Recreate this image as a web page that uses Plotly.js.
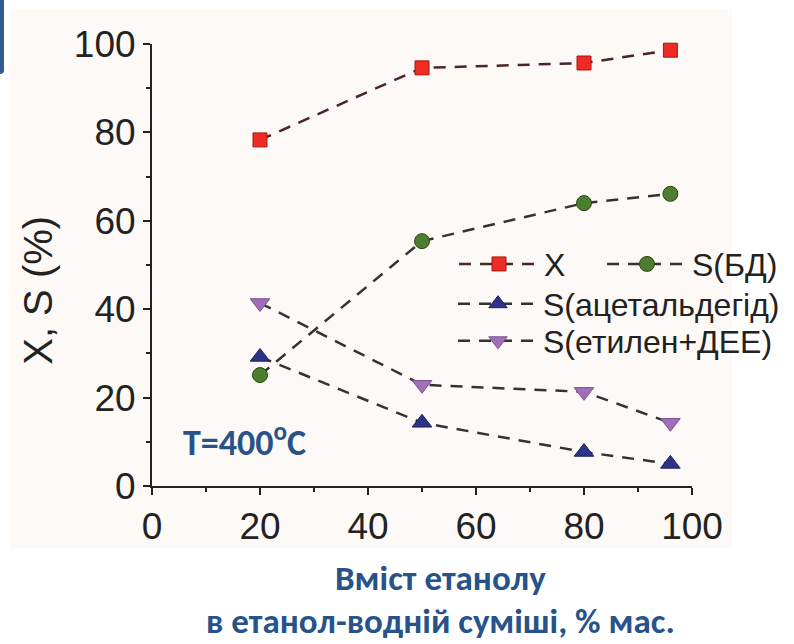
<!DOCTYPE html>
<html>
<head>
<meta charset="utf-8">
<script src="https://cdn.plot.ly/plotly-3.0.1.min.js"></script>
<style>
  html, body { margin: 0; padding: 0; background: #ffffff; }
  #wrap { position: relative; width: 794px; height: 644px; overflow: hidden; }
  #panel { position: absolute; left: 10px; top: 9px; width: 722px; height: 539px; background: #fdf9f6; }
  #tab { position: absolute; left: 0; top: 0; width: 4px; height: 74px; background: #2f5d93; border-bottom-right-radius: 4px; }
  #chart { position: absolute; left: 0; top: 0; width: 794px; height: 644px; }
</style>
</head>
<body>
<div id="wrap">
  <div id="panel"></div>
  <div id="tab"></div>
  <div id="chart"></div>
</div>
<script>
// Ethanol content in the ethanol-water feed, wt.%
const ethanolContent = [20, 50, 80, 96];

// Conversion X and selectivities S, %
const conversionX    = [78.3, 94.6, 95.7, 98.6];
const selBD          = [25.1, 55.4, 64.0, 66.1];
const selAcetald     = [29.2, 14.3, 7.7, 5.0];
const selEthyleneDEE = [41.4, 22.9, 21.3, 14.3];

const seriesNames = ['X', 'S(БД)', 'S(ацетальдегід)', 'S(етилен+ДЕЕ)'];

const xTicks = [0, 20, 40, 60, 80, 100];
const yTicks = [0, 20, 40, 60, 80, 100];

const axisFont = 'Liberation Sans, Arial, sans-serif';
const noteFont = 'Carlito, Calibri, "Open Sans", sans-serif';
const noteColor = '#27528a';
const dashPattern = '12px,9px';

function series(y, name, legendId, symbol, size, fill, edge, lineColor) {
  return {
    x: ethanolContent, y: y, name: name, legend: legendId,
    type: 'scatter', mode: 'lines+markers', cliponaxis: false,
    line: { color: lineColor, width: 2.5, dash: dashPattern },
    marker: { symbol: symbol, size: size, color: fill, line: { color: edge, width: 1 } }
  };
}

const traces = [
  series(conversionX,    seriesNames[0], 'legend',  'square',        14, '#ee2b24', '#a8160f', '#4a2626'),
  series(selBD,          seriesNames[1], 'legend2', 'circle',        15, '#4d7d2e', '#2c4a19', '#333333'),
  series(selAcetald,     seriesNames[2], 'legend3', 'triangle-up',   17, '#2c3488', '#1b205c', '#333333'),
  series(selEthyleneDEE, seriesNames[3], 'legend4', 'triangle-down', 17, '#a06fb8', '#7d5193', '#333333')
];

// one legend per entry so each row can sit where it belongs
function legendAt(x, y) {
  return {
    x: x, y: y, xanchor: 'left', yanchor: 'middle',
    bgcolor: 'rgba(0,0,0,0)', borderwidth: 0,
    itemwidth: 80, tracegroupgap: 0,
    font: { family: axisFont, size: 32, color: '#222222' }
  };
}

const axisCommon = {
  range: [0, 100], showgrid: false, zeroline: false,
  showline: true, linecolor: '#222222', linewidth: 2,
  ticks: 'outside', ticklen: 7, tickwidth: 2, tickcolor: '#222222',
  tickfont: { family: axisFont, size: 37, color: '#222222' },
  minor: { dtick: 10, ticks: 'outside', ticklen: 4, tickwidth: 2, tickcolor: '#222222' },
  fixedrange: true
};

const layout = {
  width: 794, height: 644,
  margin: { l: 152, r: 102, t: 44, b: 158, autoexpand: false },
  paper_bgcolor: 'rgba(0,0,0,0)',
  plot_bgcolor: 'rgba(0,0,0,0)',
  showlegend: true,
  xaxis: Object.assign({}, axisCommon, { tickvals: xTicks, ticktext: xTicks.map(String) }),
  yaxis: Object.assign({}, axisCommon, { tickvals: yTicks, ticktext: yTicks.map(String) }),
  legend:  legendAt(0.5593, 0.502),
  legend2: legendAt(0.8333, 0.502),
  legend3: legendAt(0.5574, 0.412),
  legend4: legendAt(0.5574, 0.328),
  annotations: [
    {
      text: 'X, S (%)', textangle: -90, showarrow: false,
      xref: 'paper', yref: 'paper', x: -0.21, y: 0.443,
      xanchor: 'center', yanchor: 'middle',
      font: { family: axisFont, size: 40, color: '#222222' }
    },
    {
      text: '<b>T=400<sup>o</sup>C</b>', showarrow: false,
      xref: 'x', yref: 'y', x: 17.2, y: 10.2,
      xanchor: 'center', yanchor: 'middle',
      font: { family: noteFont, size: 36, color: noteColor }
    },
    {
      text: '<b>Вміст етанолу</b>', showarrow: false, borderpad: 0,
      xref: 'paper', yref: 'paper', x: 0.535, y: -0.208,
      xanchor: 'center', yanchor: 'middle', align: 'center',
      font: { family: noteFont, size: 35, color: noteColor }
    },
    {
      text: '<b>в етанол-водній суміші, % мас.</b>', showarrow: false, borderpad: 0,
      xref: 'paper', yref: 'paper', x: 0.535, y: -0.3054,
      xanchor: 'center', yanchor: 'middle', align: 'center',
      font: { family: noteFont, size: 35, color: noteColor }
    }
  ]
};

Plotly.newPlot('chart', traces, layout, { staticPlot: true, displayModeBar: false });
</script>
</body>
</html>
